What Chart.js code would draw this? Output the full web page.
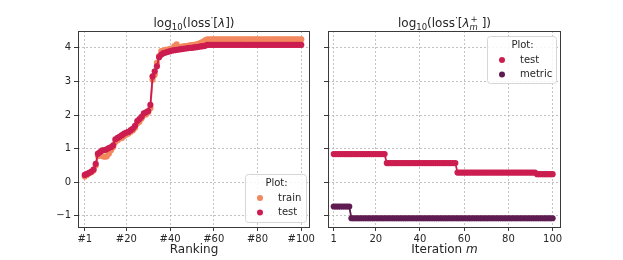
<!DOCTYPE html>
<html><head><meta charset="utf-8">
<script src="https://cdn.jsdelivr.net/npm/chart.js@4/dist/chart.umd.min.js"></script>
<style>
html,body{margin:0;padding:0;background:#fff;}
#wrap{position:relative;width:623px;height:260px;overflow:hidden;}
#c1{position:absolute;left:0;top:0;}
#c2{position:absolute;left:318px;top:0;}
</style></head><body>
<div id="wrap"><canvas id="c1" width="318" height="260"></canvas><canvas id="c2" width="305" height="260"></canvas></div>
<script>
// ---------- data ----------
const ranking = [1,2,3,4,5,6,7,8,9,10,11,12,13,14,15,16,17,18,19,20,21,22,23,24,25,26,27,28,29,30,31,32,33,34,35,36,37,38,39,40,41,42,43,44,45,46,47,48,49,50,51,52,53,54,55,56,57,58,59,60,61,62,63,64,65,66,67,68,69,70,71,72,73,74,75,76,77,78,79,80,81,82,83,84,85,86,87,88,89,90,91,92,93,94,95,96,97,98,99,100];
const iterations = ranking;
const trainLoss = [0.17,0.22,0.27,0.30,0.35,0.50,0.78,0.80,0.78,0.76,
  0.77,0.85,0.95,1.05,1.20,1.25,1.30,1.32,1.38,1.42,
  1.45,1.50,1.55,1.62,1.75,1.80,1.90,2.00,2.02,2.08,
  2.20,3.05,3.20,3.55,3.75,3.90,3.92,3.94,3.95,3.97,
  3.98,4.05,4.10,4.02,4.03,4.04,4.05,4.06,4.07,4.08,
  4.09,4.10,4.12,4.15,4.18,4.22,4.25,4.25,4.25,4.25,
  4.25,4.25,4.25,4.25,4.25,4.25,4.25,4.25,4.25,4.25,
  4.25,4.25,4.25,4.25,4.25,4.25,4.25,4.25,4.25,4.25,
  4.25,4.25,4.25,4.25,4.25,4.25,4.25,4.25,4.25,4.25,
  4.25,4.25,4.25,4.25,4.25,4.25,4.25,4.25,4.25,4.25];
const testLoss = [0.22,0.25,0.28,0.32,0.38,0.55,0.85,0.90,0.95,0.96,
  0.98,1.02,1.05,1.10,1.28,1.32,1.36,1.40,1.45,1.48,
  1.50,1.55,1.60,1.68,1.82,1.88,1.95,2.05,2.08,2.12,
  2.30,3.15,3.30,3.45,3.72,3.80,3.84,3.86,3.88,3.90,
  3.92,3.93,3.94,3.95,3.96,3.97,3.98,3.99,4.00,4.00,
  4.01,4.02,4.03,4.04,4.05,4.06,4.09,4.09,4.09,4.09,
  4.09,4.09,4.09,4.09,4.09,4.09,4.09,4.09,4.09,4.09,
  4.09,4.09,4.09,4.09,4.09,4.09,4.09,4.09,4.09,4.09,
  4.09,4.09,4.09,4.09,4.09,4.09,4.09,4.09,4.09,4.09,
  4.09,4.09,4.09,4.09,4.09,4.09,4.09,4.09,4.09,4.09];
const iterTest = [0.84,0.84,0.84,0.84,0.84,0.84,0.84,0.84,0.84,0.84,
  0.84,0.84,0.84,0.84,0.84,0.84,0.84,0.84,0.84,0.84,
  0.84,0.84,0.84,0.84,0.57,0.57,0.57,0.57,0.57,0.57,
  0.57,0.57,0.57,0.57,0.57,0.57,0.57,0.57,0.57,0.57,
  0.57,0.57,0.57,0.57,0.57,0.57,0.57,0.57,0.57,0.57,
  0.57,0.57,0.57,0.57,0.57,0.57,0.29,0.29,0.29,0.29,
  0.29,0.29,0.29,0.29,0.29,0.29,0.29,0.29,0.29,0.29,
  0.29,0.29,0.29,0.29,0.29,0.29,0.29,0.29,0.29,0.29,
  0.29,0.29,0.29,0.29,0.29,0.29,0.29,0.29,0.29,0.29,
  0.29,0.29,0.24,0.24,0.24,0.24,0.24,0.24,0.24,0.24];
const iterMetric = [-0.72,-0.72,-0.72,-0.72,-0.72,-0.72,-0.72,-0.72,-1.07,-1.07,
  -1.07,-1.07,-1.07,-1.07,-1.07,-1.07,-1.07,-1.07,-1.07,-1.07,
  -1.07,-1.07,-1.07,-1.07,-1.07,-1.07,-1.07,-1.07,-1.07,-1.07,
  -1.07,-1.07,-1.07,-1.07,-1.07,-1.07,-1.07,-1.07,-1.07,-1.07,
  -1.07,-1.07,-1.07,-1.07,-1.07,-1.07,-1.07,-1.07,-1.07,-1.07,
  -1.07,-1.07,-1.07,-1.07,-1.07,-1.07,-1.07,-1.07,-1.07,-1.07,
  -1.07,-1.07,-1.07,-1.07,-1.07,-1.07,-1.07,-1.07,-1.07,-1.07,
  -1.07,-1.07,-1.07,-1.07,-1.07,-1.07,-1.07,-1.07,-1.07,-1.07,
  -1.07,-1.07,-1.07,-1.07,-1.07,-1.07,-1.07,-1.07,-1.07,-1.07,
  -1.07,-1.07,-1.07,-1.07,-1.07,-1.07,-1.07,-1.07,-1.07,-1.07];
const rankTicks = [1,20,40,60,80,100];
const rankTickLabels = ['#1','#20','#40','#60','#80','#100'];
const iterTicks = [1,20,40,60,80,100];
const iterTickLabels = ['1','20','40','60','80','100'];
const yTicks = [-1,0,1,2,3,4];
const yTickLabels = ['\u22121','0','1','2','3','4'];

// ---------- style ----------
const FONT = "'DejaVu Sans', sans-serif";
const TXT = '#262626';
const C_TRAIN = '#f3875e', C_TEST = '#cc1d50', C_METRIC = '#5f1c52';

function pts(xs, ys){ return xs.map((x,i)=>({x:x, y:ys[i]})); }

function fontOf(s){ return (s.italic?'italic ':'') + s.size + 'px ' + FONT; }
function drawRich(ctx, segs, cx, base){
  let total = 0;
  segs.forEach(s=>{ ctx.font = fontOf(s); s.w = s.noAdv ? 0 : ctx.measureText(s.t).width; total += s.w; });
  let x = cx - total/2;
  ctx.fillStyle = TXT; ctx.textBaseline = 'alphabetic'; ctx.textAlign = 'left';
  segs.forEach(s=>{ ctx.font = fontOf(s); ctx.fillText(s.t, x + (s.dx||0), base + (s.dy||0)); x += s.w; });
}

const decor = {
  id:'decor',
  afterDraw(chart, args, o){
    const ctx = chart.ctx, a = chart.chartArea;
    ctx.save();
    ctx.strokeStyle = '#3a3a3a'; ctx.lineWidth = 1;
    ctx.strokeRect(Math.round(a.left)+0.5, Math.round(a.top)+0.5, Math.round(a.right-a.left)-1, Math.round(a.bottom-a.top));
    drawRich(ctx, o.title, (a.left+a.right)/2, 26.5);
    drawRich(ctx, o.xlabel, (a.left+a.right)/2, 252.5);
    const L = o.legend;
    const bx = L.right ? a.right - L.right - L.w : a.left + L.left;
    const by = L.bottom !== undefined ? a.bottom - L.bottom - L.h : a.top + L.top;
    ctx.fillStyle = 'rgba(255,255,255,0.85)';
    ctx.strokeStyle = '#d6d6d6'; ctx.lineWidth = 1;
    ctx.beginPath();
    if (ctx.roundRect) ctx.roundRect(bx+0.5, by+0.5, L.w, L.h, 3); else ctx.rect(bx+0.5, by+0.5, L.w, L.h);
    ctx.fill(); ctx.stroke();
    ctx.fillStyle = TXT; ctx.font = '10px ' + FONT; ctx.textBaseline = 'middle';
    ctx.textAlign = 'center';
    ctx.fillText('Plot:', bx + L.w/2 + 1, by + 9);
    ctx.textAlign = 'left';
    L.items.forEach((it, i)=>{
      const yy = by + 24 + i*14.5;
      ctx.fillStyle = it.color;
      ctx.beginPath(); ctx.arc(bx + 15, yy, 3, 0, Math.PI*2); ctx.fill();
      ctx.fillStyle = TXT;
      ctx.fillText(it.label, bx + 33, yy);
    });
    ctx.restore();
  }
};

function xScale(min, max, ticks, labels){
  return {
    type:'linear', min:min, max:max,
    afterBuildTicks: s => { s.ticks = ticks.map(v=>({value:v})); },
    afterFit: s => { s.height = 33; },
    ticks:{ autoSkip:false, maxRotation:0, padding:2, color:TXT, font:{family:FONT, size:10},
      callback: v => labels[ticks.indexOf(v)] },
    grid:{ color:'#b3b3b3', lineWidth:0.8, tickLength:4, tickColor:'#3a3a3a', tickWidth:1, tickBorderDash:[] },
    border:{ display:false, dash:[2,2] }
  };
}
function yScale(width, showLabels){
  return {
    type:'linear', min:-1.33, max:4.5,
    afterBuildTicks: s => { s.ticks = yTicks.map(v=>({value:v})); },
    afterFit: s => { s.width = width; },
    ticks:{ display:showLabels, padding:3, color:TXT, font:{family:FONT, size:10},
      callback: v => yTickLabels[yTicks.indexOf(v)] },
    grid:{ color:'#b3b3b3', lineWidth:0.8, tickLength:4, tickColor:'#3a3a3a', tickWidth:1, tickBorderDash:[] },
    border:{ display:false, dash:[2,2] }
  };
}
function ds(label, data, color, order){
  return { label:label, data:data, borderColor:color, backgroundColor:color, pointBackgroundColor:color,
    pointBorderWidth:0, pointRadius:3.1, borderWidth:1.8, order:order, tension:0 };
}

const base = { responsive:false, animation:false, events:[],
  plugins:{ legend:{display:false}, tooltip:{enabled:false}, title:{display:false} } };

new Chart(document.getElementById('c1'), {
  type:'line',
  data:{ datasets:[ ds('train', pts(ranking, trainLoss), C_TRAIN, 1), ds('test', pts(ranking, testLoss), C_TEST, 0) ] },
  options: Object.assign({}, base, {
    layout:{ padding:{ left:0, right:8, top:31, bottom:0 } },
    scales:{ x: xScale(-2.1, 104, rankTicks, rankTickLabels), y: yScale(78, true) },
    plugins: Object.assign({}, base.plugins, { decor:{
      title:[{t:'log',size:12},{t:'10',size:8.5,dy:3},{t:'(loss',size:12},{t:'\u00b7',size:9,dy:-6},{t:'[',size:12},{t:'\u03bb',size:12,italic:true},{t:'])',size:12}],
      xlabel:[{t:'Ranking',size:12}],
      legend:{ right:4, bottom:5, w:61, h:48, items:[{label:'train',color:C_TRAIN},{label:'test',color:C_TEST}] }
    }})
  }),
  plugins:[decor]
});

new Chart(document.getElementById('c2'), {
  type:'line',
  data:{ datasets:[ ds('test', pts(iterations, iterTest), C_TEST, 0), ds('metric', pts(iterations, iterMetric), C_METRIC, 1) ] },
  options: Object.assign({}, base, {
    layout:{ padding:{ left:0, right:62, top:31, bottom:0 } },
    scales:{ x: xScale(-1.6, 103.8, iterTicks, iterTickLabels), y: yScale(10, false) },
    plugins: Object.assign({}, base.plugins, { decor:{
      title:[{t:'log',size:12},{t:'10',size:8.5,dy:3},{t:'(loss',size:12},{t:'\u00b7',size:9,dy:-6},{t:'[',size:12},{t:'\u03bb',size:12,italic:true},
             {t:'+',size:8.5,dy:-5,noAdv:true,dx:1},{t:'m',size:8.5,italic:true,dy:3},{t:' ])',size:12}],
      xlabel:[{t:'Iteration ',size:12},{t:'m',size:12,italic:true}],
      legend:{ right:5, top:5, w:69, h:47, items:[{label:'test',color:C_TEST},{label:'metric',color:C_METRIC}] }
    }})
  }),
  plugins:[decor]
});
</script>
</body></html>
